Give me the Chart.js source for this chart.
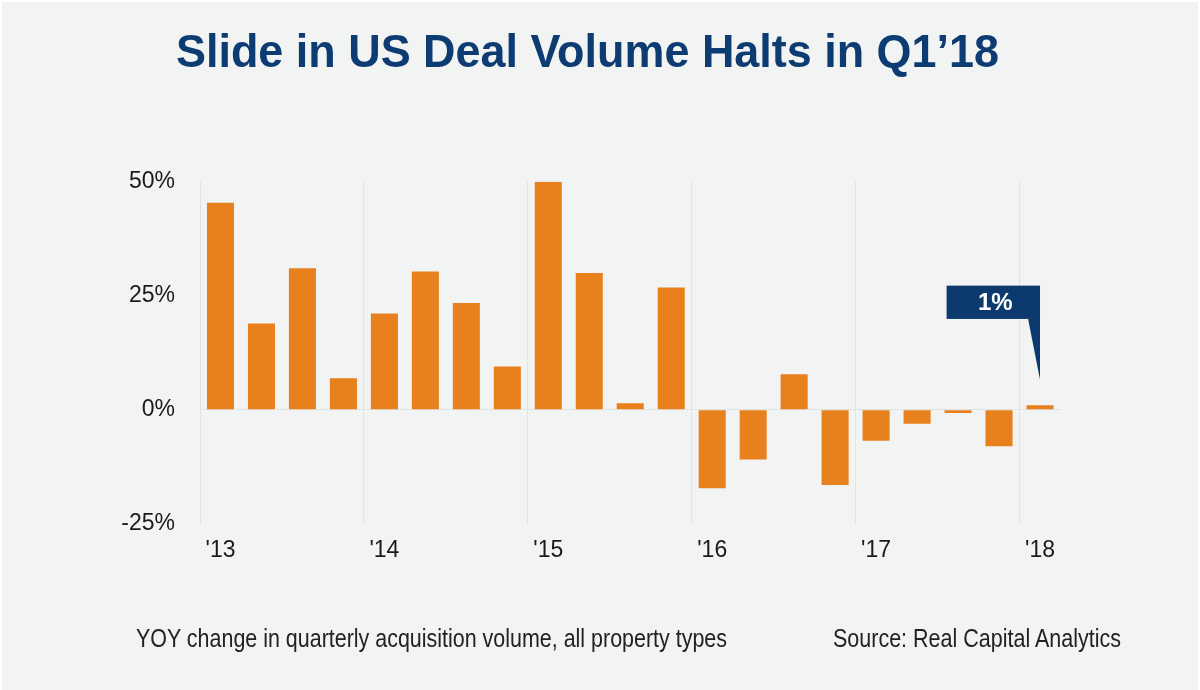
<!DOCTYPE html>
<html>
<head>
<meta charset="utf-8">
<script src="https://cdn.jsdelivr.net/npm/chart.js@4.4.1/dist/chart.umd.min.js"></script>
<style>
  html, body { margin: 0; padding: 0; background: #ffffff; }
  #frame { position: absolute; left: 2px; top: 2px; width: 1196px; height: 688px; background: #f2f3f3; }
  #wrap { position: absolute; left: 0; top: 0; width: 1200px; height: 690px; }
  .txt { position: absolute; white-space: nowrap; transform-origin: left top; font-family: 'Liberation Sans', Arial, sans-serif; }
  #title { left: 176px; top: 28px; font-size: 46px; line-height: 46px; font-weight: bold; color: #0d3c73; }
  #note { left: 136px; top: 626px; font-size: 25px; line-height: 25px; color: #222; }
  #source { left: 833px; top: 626px; font-size: 25px; line-height: 25px; color: #222; }
</style>
</head>
<body>
<div id="frame"></div>
<div id="wrap"><canvas id="chart" width="1200" height="690"></canvas></div>
<div class="txt" id="title" data-w="823">Slide in US Deal Volume Halts in Q1’18</div>
<div class="txt" id="note" data-w="591">YOY change in quarterly acquisition volume, all property types</div>
<div class="txt" id="source" data-w="288">Source: Real Capital Analytics</div>
<script>
// data (YOY % change, Q1'13 .. Q1'18)
const quarters = ["Q1'13", "Q2'13", "Q3'13", "Q4'13", "Q1'14", "Q2'14", "Q3'14", "Q4'14",
                  "Q1'15", "Q2'15", "Q3'15", "Q4'15", "Q1'16", "Q2'16", "Q3'16", "Q4'16",
                  "Q1'17", "Q2'17", "Q3'17", "Q4'17", "Q1'18"];
const yoyChange = [45.4, 18.9, 31.0, 6.9, 21.1, 30.3, 23.4, 9.5,
                   50.0, 30.0, 1.4, 26.8, -17.2, -10.9, 7.8, -16.5,
                   -6.8, -3.1, -0.7, -8.0, 1.0];
const yearTicks = ["'13", "'14", "'15", "'16", "'17", "'18"];
const yTicks = [-25, 0, 25, 50];

const barColor = '#e8801e';
const navy = '#0c3a6e';
const tickFont = { family: "'Liberation Sans', Arial, sans-serif", size: 23 };

// squeeze the html texts to the widths in the picture
document.querySelectorAll('.txt').forEach(el => {
    const w = el.getBoundingClientRect().width;
    el.style.transform = 'scaleX(' + (parseFloat(el.dataset.w) / w) + ')';
});

const calloutPlugin = {
    id: 'callout',
    afterDatasetsDraw(chart) {
        const meta = chart.getDatasetMeta(0);
        const i = yoyChange.length - 1;
        const bar = meta.data[i];
        const ctx = chart.ctx;
        const tipX = bar.x, tipY = bar.y - 25.5;
        const boxBottom = tipY - 60.7, boxH = 33.3, boxW = 93.4;
        const boxTop = boxBottom - boxH, boxLeft = tipX - boxW;
        ctx.save();
        ctx.fillStyle = navy;
        ctx.fillRect(boxLeft, boxTop, boxW, boxH);
        ctx.beginPath();
        ctx.moveTo(tipX - 12, boxBottom - 0.5);
        ctx.lineTo(tipX, boxBottom - 0.5);
        ctx.lineTo(tipX, tipY);
        ctx.closePath();
        ctx.fill();
        ctx.fillStyle = '#ffffff';
        ctx.font = "bold 24px 'Liberation Sans', Arial, sans-serif";
        ctx.textAlign = 'center';
        ctx.textBaseline = 'middle';
        ctx.fillText(Math.round(yoyChange[i]) + '%', boxLeft + boxW / 2 + 2, boxTop + boxH / 2 + 1);
        ctx.restore();
    }
};

new Chart(document.getElementById('chart').getContext('2d'), {
    type: 'bar',
    data: {
        labels: quarters,
        datasets: [{
            data: yoyChange,
            backgroundColor: barColor,
            borderWidth: 0,
            barPercentage: 0.66,
            categoryPercentage: 1
        }]
    },
    options: {
        responsive: false,
        animation: false,
        layout: { padding: { left: 100, right: 139.5, top: 181.7, bottom: 116.3 } },
        plugins: { legend: { display: false }, tooltip: { enabled: false } },
        scales: {
            x: {
                grid: {
                    offset: true,
                    drawTicks: false,
                    color: c => (c.index !== undefined && c.index % 4 === 0) ? '#e1e2e2' : 'rgba(0,0,0,0)'
                },
                border: { display: false },
                ticks: {
                    autoSkip: false,
                    maxRotation: 0,
                    padding: 13,
                    color: '#1a1a1a',
                    font: tickFont,
                    callback: (v, i) => i % 4 === 0 ? yearTicks[i / 4] : ''
                },
                afterFit: s => { s.height = 50; }
            },
            y: {
                min: -25,
                max: 50,
                afterBuildTicks: s => { s.ticks = yTicks.map(v => ({ value: v })); },
                grid: {
                    drawTicks: false,
                    color: c => c.tick && c.tick.value === 0 ? '#e1e2e2' : 'rgba(0,0,0,0)'
                },
                border: { display: false },
                ticks: {
                    padding: 25,
                    color: '#1a1a1a',
                    font: tickFont,
                    callback: v => v + '%'
                },
                afterFit: s => { s.width = 100; }
            }
        }
    },
    plugins: [calloutPlugin]
});
</script>
</body>
</html>
